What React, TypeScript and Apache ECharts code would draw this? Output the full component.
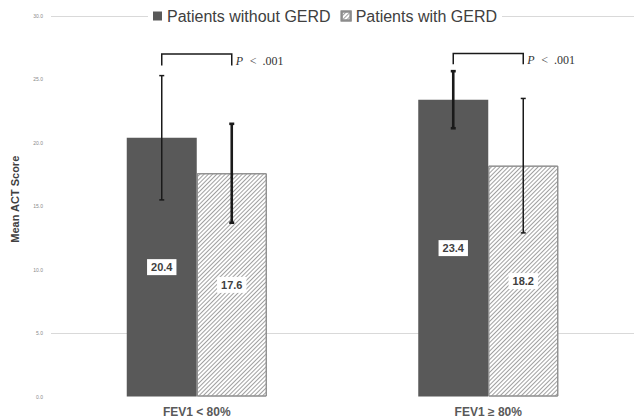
import React, { useEffect, useRef } from "react";
import * as echarts from "echarts";

const categories = ["FEV1 < 80%", "FEV1 ≥ 80%"];
const seriesNames = ["Patients without GERD", "Patients with GERD"];
const withoutGerd = [20.4, 23.4];
const withGerd = [17.6, 18.2];
const withoutGerdErr = [4.9, 2.25];
const withGerdErr = [3.9, 5.3];
const bracketTop = [27.0, 27.05];
const bracketLeg = [26.1, 26.2];
const pLabels = ["P < .001", "P < .001"];
const yMin = 0;
const yMax = 30;
const yInterval = 5;

const BAR_W = 70;
const errWidths = [[1.5, 2.6], [2.6, 1.5]];

export default function App() {
  const ref = useRef<HTMLDivElement>(null);
  useEffect(() => {
    if (!ref.current) return;
    const chart = echarts.init(ref.current, undefined, { renderer: "svg" });
    const errData: number[][] = [];
    categories.forEach((_, i) => {
      errData.push([i, withoutGerd[i], withoutGerdErr[i], -1]);
      errData.push([i, withGerd[i], withGerdErr[i], 1]);
    });
    const bracketData = categories.map((_, i) => [i, bracketTop[i], bracketLeg[i]]);
    const gridColors = [];
    for (let v = yMin; v <= yMax; v += yInterval) {
      gridColors.push(v === 5 || v === 30 ? "#d9d9d9" : "rgba(0,0,0,0)");
    }
    const labelStyle = {
      show: true,
      position: "inside",
      formatter: (p: any) => p.value.toFixed(1),
      backgroundColor: "#fff",
      padding: [3, 4, 2, 4],
      fontSize: 11,
      fontWeight: "bold",
      color: "#404040",
      fontFamily: "Liberation Sans, Arial, sans-serif",
    };
    chart.setOption({
      animation: false,
      grid: { left: 51, right: 2, top: 16, bottom: 21.5, containLabel: false },
      legend: {
        top: 7,
        left: 148,
        data: seriesNames,
        icon: "rect",
        itemWidth: 9,
        itemHeight: 9,
        itemGap: 10,
        backgroundColor: "#fff",
        padding: [1, 5],
        textStyle: { fontSize: 16, color: "#404040", fontFamily: "Liberation Sans, Arial, sans-serif" },
      },
      xAxis: {
        type: "category",
        data: categories,
        axisLine: { show: false },
        axisTick: { show: false },
        axisLabel: {
          margin: 9,
          fontSize: 12,
          fontWeight: "bold",
          color: "#595959",
          fontFamily: "Liberation Sans, Arial, sans-serif",
        },
      },
      yAxis: {
        type: "value",
        min: yMin,
        max: yMax,
        interval: yInterval,
        name: "Mean ACT Score",
        nameLocation: "middle",
        nameRotate: 90,
        nameGap: 31,
        nameTextStyle: {
          fontSize: 11,
          fontWeight: "bold",
          color: "#404040",
          fontFamily: "Liberation Sans, Arial, sans-serif",
          padding: [0, 0, 0, 14],
        },
        axisLine: { show: false },
        axisTick: { show: false },
        axisLabel: {
          formatter: (v: number) => v.toFixed(1),
          fontSize: 5,
          color: "#8a8a8a",
          margin: 8,
        },
        splitLine: { show: true, lineStyle: { color: gridColors, width: 1 } },
      },
      series: [
        {
          name: seriesNames[0],
          type: "bar",
          data: withoutGerd,
          barWidth: BAR_W,
          barGap: "0%",
          itemStyle: { color: "#595959" },
          label: labelStyle,
        },
        {
          name: seriesNames[1],
          type: "bar",
          data: withGerd,
          barWidth: BAR_W,
          barGap: "0%",
          itemStyle: {
            color: "#ffffff",
            borderColor: "#8c8c8c",
            borderWidth: 1,
            decal: {
              symbol: "rect",
              color: "#a0a0a0",
              dashArrayX: [1, 0],
              dashArrayY: [1, 1.8],
              rotation: -Math.PI / 4,
            },
          },
          label: labelStyle,
        },
        {
          type: "custom",
          name: "err",
          z: 10,
          data: errData,
          renderItem: (params: any, api: any) => {
            const i = api.value(0);
            const mean = api.value(1);
            const err = api.value(2);
            const side = api.value(3);
            const c = api.coord([i, mean]);
            const x = c[0] + side * (BAR_W / 2);
            const yt = api.coord([i, mean + err])[1];
            const yb = api.coord([i, mean - err])[1];
            const lw = errWidths[i][side < 0 ? 0 : 1];
            const st = { stroke: "#1a1a1a", lineWidth: lw };
            return {
              type: "group",
              children: [
                { type: "line", shape: { x1: x, y1: yt, x2: x, y2: yb }, style: st },
                { type: "line", shape: { x1: x - 2.5, y1: yt, x2: x + 2.5, y2: yt }, style: st },
                { type: "line", shape: { x1: x - 2.5, y1: yb, x2: x + 2.5, y2: yb }, style: st },
              ],
            };
          },
        },
        {
          type: "custom",
          name: "bracket",
          z: 10,
          data: bracketData,
          renderItem: (params: any, api: any) => {
            const i = api.value(0);
            const c = api.coord([i, api.value(1)]);
            const yTop = c[1];
            const yLeg = api.coord([i, api.value(2)])[1];
            const x1 = c[0] - BAR_W / 2;
            const x2 = c[0] + BAR_W / 2;
            const txt = pLabels[params.dataIndex];
            return {
              type: "group",
              children: [
                {
                  type: "polyline",
                  shape: { points: [[x1, yLeg], [x1, yTop], [x2, yTop], [x2, yLeg]] },
                  style: { stroke: "#1a1a1a", lineWidth: 1.5, fill: null },
                },
                {
                  type: "text",
                  x: x2 + 4,
                  y: (yTop + yLeg) / 2 + 1,
                  style: {
                    text: "{i|P}  {n|" + txt.slice(2).replace(" ", "  ") + "}",
                    rich: {
                      i: { fontStyle: "italic", fontFamily: "Liberation Serif, Times New Roman, serif", fontSize: 12, fill: "#333" },
                      n: { fontFamily: "Liberation Serif, Times New Roman, serif", fontSize: 12, fill: "#333" },
                    },
                    verticalAlign: "middle",
                    align: "left",
                  },
                },
              ],
            };
          },
        },
      ],
    });
    return () => chart.dispose();
  }, []);
  return (
    <div
      ref={ref}
      style={{ position: "fixed", left: 0, top: 0, width: 636, height: 418, background: "#fff" }}
    />
  );
}
